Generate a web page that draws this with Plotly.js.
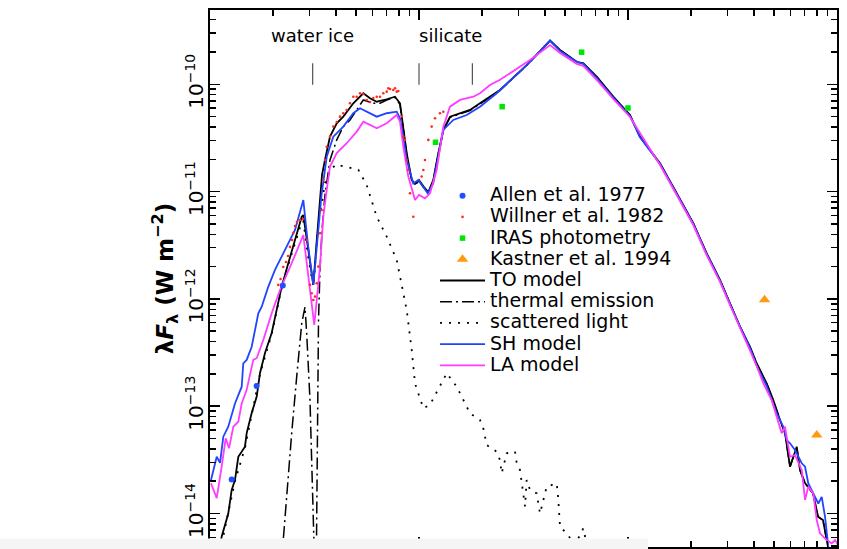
<!DOCTYPE html>
<html><head><meta charset="utf-8">
<script src="https://cdn.plot.ly/plotly-3.0.1.min.js"></script>
<style>html,body{margin:0;padding:0;background:#fff}#chart{width:847px;height:549px}</style>
</head><body><div id="chart"></div>
<script>
// ---------------- data (wavelength in micron, lambda*F_lambda in W m^-2) ----------------
const allenWl = [1.27, 1.67, 2.23];
const allenF  = [2.08e-14, 1.54e-13, 1.33e-12];

const willnerWl = [2.122,2.175,2.242,2.310,2.362,2.414,2.468,2.504,2.551,2.608,2.695,2.786,2.912,3.009,3.066,3.121,3.180,3.240,3.298,3.360,3.422,3.484,3.549,3.618,3.751,3.890,4.040,4.188,4.343,4.509,4.676,4.850,5.034,5.221,5.414,5.621,5.830,6.043,6.276,6.509,6.748,7.007,7.131,7.265,7.534,7.678,7.823,7.962,8.264,8.413,8.570,8.733,8.889,9.056,9.391,10.30,10.49,10.68,11.08,11.50,11.93,12.60,13.07];
const willnerF  = [1.35e-12,1.53e-12,1.98e-12,2.21e-12,2.51e-12,3.05e-12,3.54e-12,4.11e-12,4.78e-12,5.21e-12,5.43e-12,5.55e-12,3.54e-12,1.35e-12,1.13e-12,9.77e-13,1.05e-12,1.40e-12,2.00e-12,4.09e-12,6.74e-12,1.28e-11,1.97e-11,2.62e-11,3.25e-11,4.03e-11,4.45e-11,4.99e-11,5.37e-11,5.76e-11,6.65e-11,7.66e-11,7.66e-11,8.24e-11,8.12e-11,7.14e-11,6.84e-11,7.45e-11,7.66e-11,7.66e-11,8.24e-11,8.53e-11,9.18e-11,9.04e-11,8.85e-11,9.18e-11,8.53e-11,8.66e-11,4.99e-11,3.25e-11,3.03e-11,1.97e-11,1.59e-11,9.64e-12,5.83e-12,1.38e-11,1.59e-11,1.97e-11,3.03e-11,4.03e-11,4.82e-11,5.37e-11,5.55e-11];

const irasWl = [12, 25, 60, 100];
const irasF  = [2.88e-11, 6.18e-11, 1.99e-10, 6.01e-11];

const kastnerWl = [450, 800];
const kastnerF  = [9.8e-13, 5.4e-14];

const toWl = [1.092,1.137,1.223,1.270,1.317,1.366,1.470,1.498,1.583,1.673,1.735,1.833,1.973,2.085,2.203,2.369,2.551,2.747,2.796,2.943,3.121,3.215,3.323,3.435,3.549,3.751,4.040,4.343,4.850,5.414,5.830,6.276,7.007,7.678,8.110,8.413,8.733,9.228,9.570,10.00,10.56,11.08,11.70,12.37,13.07,14.07,15.71,17.54,19.58,21.86,24.41,32.75,42.36,47.28,56.83,61.11,70.84,85.05,102.2,114.1,142.3,171.0,205.3,237.9,275.6,307.6,343.6,383.5,412.9,460.9,495.6,533.6,563.8,595.8,641.6,665.3,703.2,767.9,811.4,857.0,905.6,935.9];
const toF  = [3.69e-15,6.08e-15,1.00e-14,1.66e-14,2.05e-14,3.38e-14,4.20e-14,5.62e-14,8.65e-14,1.23e-13,2.04e-13,3.13e-13,4.81e-13,7.88e-13,1.30e-12,2.15e-12,3.54e-12,5.83e-12,6.05e-12,2.86e-12,1.35e-12,2.86e-12,6.74e-12,1.43e-11,1.97e-11,3.25e-11,4.33e-11,4.99e-11,6.65e-11,8.24e-11,7.40e-11,6.88e-11,7.25e-11,7.66e-11,6.65e-11,4.03e-11,2.28e-11,1.28e-11,1.18e-11,1.28e-11,1.10e-11,9.91e-12,1.28e-11,2.28e-11,3.75e-11,4.99e-11,5.37e-11,5.76e-11,6.65e-11,7.66e-11,8.85e-11,1.51e-10,2.55e-10,2.09e-10,1.62e-10,1.57e-10,1.18e-10,7.66e-11,5.17e-11,3.25e-11,1.84e-11,9.64e-12,5.07e-12,2.66e-12,1.50e-12,9.10e-13,5.51e-13,3.58e-13,2.51e-13,1.63e-13,1.14e-13,7.44e-14,5.63e-14,2.73e-14,4.19e-14,2.54e-14,1.92e-14,1.55e-14,9.34e-15,8.70e-15,4.90e-15,2.97e-15];

const thermalWl = [2.203,2.328,2.460,2.599,2.747,2.848,2.901,3.009,3.066,3.128,3.180,3.233,3.268,3.305,3.360,3.435,3.549,3.751,4.040,4.343,4.676,5.034,5.414,6.043,6.509,7.007,7.678,8.110,8.413,8.733,9.228,9.570,10.00,10.56,11.08,11.70,12.37,13.07,14.07,15.71,17.54,19.58,21.86,24.41,32.75,42.36,47.28,56.83,61.11,70.84,85.05,102.2,114.1,142.3,171.0,205.3,237.9,275.6,307.6,343.6,383.5,412.9,460.9,495.6,533.6,563.8,595.8,641.6,665.3,703.2,767.9,811.4,857.0,905.6,935.9];
const thermalF  = [3.69e-15,1.55e-14,5.63e-14,1.88e-13,5.92e-13,8.40e-13,4.81e-13,1.14e-13,2.73e-14,5.66e-15,2.40e-15,5.66e-15,1.14e-13,6.36e-13,1.86e-12,4.39e-12,9.29e-12,1.97e-11,3.03e-11,4.03e-11,4.65e-11,5.76e-11,7.14e-11,6.65e-11,6.65e-11,7.14e-11,7.53e-11,6.48e-11,3.96e-11,2.24e-11,1.26e-11,1.15e-11,1.26e-11,1.08e-11,9.70e-12,1.26e-11,2.24e-11,3.67e-11,4.90e-11,5.29e-11,5.70e-11,6.55e-11,7.61e-11,8.75e-11,1.50e-10,2.54e-10,2.08e-10,1.61e-10,1.56e-10,1.17e-10,7.62e-11,5.15e-11,3.23e-11,1.83e-11,9.60e-12,5.05e-12,2.65e-12,1.49e-12,9.05e-13,5.48e-13,3.56e-13,2.50e-13,1.62e-13,1.13e-13,7.40e-14,5.60e-14,2.72e-14,4.17e-14,2.53e-14,1.91e-14,1.54e-14,9.30e-15,8.66e-15,4.88e-15,2.96e-15];

const scatWl = [1.092,1.223,1.317,1.470,1.583,1.735,1.973,2.203,2.369,2.551,2.747,2.796,2.943,3.121,3.215,3.323,3.420,3.549,3.821,4.040,4.188,4.676,5.124,5.621,6.276,7.007,7.823,8.733,9.228,9.570,10.49,11.29,13.07,13.57,15.15,16.01,17.54,19.58,20.31,21.08,23.54,24.41,24.87,26.28,28.80,29.35,30.43,32.16,32.75,33.97,36.58,37.93,40.83,45.60,46.41,47.28,50.90,55.78,61.11,65.79];
const scatF  = [3.6e-15,9.8e-15,2.0e-14,4.1e-14,8.5e-14,2.0e-13,4.7e-13,1.27e-12,2.08e-12,3.35e-12,5.2e-12,5.3e-12,2.5e-12,1.3e-12,2.7e-12,5.8e-12,7.5e-12,1.2e-11,1.65e-11,1.80e-11,1.75e-11,1.68e-11,1.60e-11,1.15e-11,5.83e-12,3.80e-12,2.30e-12,7.88e-13,3.34e-13,1.63e-13,9.56e-14,1.03e-13,1.75e-13,2.03e-13,1.52e-13,1.23e-13,8.59e-14,7.44e-14,6.22e-14,4.35e-14,3.77e-14,3.15e-14,2.37e-14,3.64e-14,3.77e-14,2.94e-14,2.54e-14,1.16e-14,2.05e-14,1.66e-14,1.54e-14,1.00e-14,1.78e-14,1.91e-14,1.34e-14,7.53e-15,6.54e-15,5.09e-15,7.28e-15,3.69e-15];

const shWl = [1.011,1.077,1.117,1.158,1.223,1.317,1.418,1.443,1.498,1.583,1.703,1.768,1.901,2.046,2.285,2.551,2.796,2.943,3.121,3.215,3.305,3.416,3.618,3.890,4.343,4.850,5.221,5.621,6.276,7.007,7.823,8.110,8.413,8.733,9.391,9.924,11.01,11.70,12.37,13.07,14.59,16.91,19.58,23.54,32.75,42.36,47.28,56.83,61.11,70.84,85.05,102.2,114.1,142.3,171.0,205.3,237.9,275.6,307.6,343.6,383.5,412.9,460.9,514.6,553.4,574.6,595.8,629.5,678.0,703.2,729.0,770.1,813.9,845.1,876.4,908.7,935.9];
const shF  = [2.05e-14,3.38e-14,2.96e-14,5.20e-14,6.44e-14,1.06e-13,1.52e-13,2.51e-13,2.70e-13,3.58e-13,7.34e-13,8.46e-13,1.30e-12,1.86e-12,2.86e-12,4.39e-12,8.35e-12,3.18e-12,1.35e-12,2.56e-12,4.88e-12,9.29e-12,2.11e-11,3.25e-11,4.03e-11,5.37e-11,5.97e-11,5.55e-11,4.99e-11,5.37e-11,5.55e-11,4.82e-11,3.25e-11,1.97e-11,1.19e-11,1.28e-11,9.64e-12,1.19e-11,2.11e-11,3.75e-11,4.65e-11,5.17e-11,6.18e-11,8.24e-11,1.51e-10,2.55e-10,2.04e-10,1.61e-10,1.55e-10,1.14e-10,7.53e-11,5.07e-11,3.20e-11,1.81e-11,9.50e-12,4.99e-12,2.62e-12,1.47e-12,8.97e-13,5.47e-13,3.49e-13,2.37e-13,1.54e-13,8.59e-14,6.44e-14,4.84e-14,4.51e-14,3.91e-14,2.94e-14,2.73e-14,1.91e-14,1.54e-14,1.24e-14,1.43e-14,9.34e-15,4.90e-15,2.97e-15];

const laWl = [1.011,1.077,1.137,1.189,1.233,1.293,1.366,1.418,1.498,1.611,1.673,1.799,1.973,2.162,2.460,2.796,3.009,3.155,3.360,3.484,3.618,3.751,4.040,4.509,5.034,5.414,5.830,6.276,7.007,7.823,8.110,8.413,8.889,9.570,10.00,10.68,11.29,12.15,13.07,14.07,15.71,18.19,19.58,21.86,24.41,31.55,33.97,42.36,47.28,56.83,61.11,70.84,85.05,102.2,142.3,171.0,205.3,237.9,275.6,307.6,343.6,383.5,412.9,444.2,487.1,514.6,543.7,563.8,595.8,629.5,678.0,703.2,729.0,770.1,799.6,829.3,892.6,943.1,978.1,1011];
const laF  = [1.91e-14,1.39e-14,2.73e-14,5.02e-14,4.05e-14,6.44e-14,7.17e-14,1.06e-13,1.42e-13,2.70e-13,2.80e-13,4.14e-13,7.34e-13,1.21e-12,2.15e-12,3.94e-12,1.21e-12,5.71e-13,2.00e-12,5.83e-12,1.035e-11,1.71e-11,2.28e-11,2.82e-11,3.62e-11,4.48e-11,4.18e-11,3.89e-11,4.33e-11,5.17e-11,4.48e-11,2.62e-11,1.38e-11,8.35e-12,9.29e-12,8.66e-12,9.64e-12,1.59e-11,4.03e-11,6.18e-11,7.14e-11,7.66e-11,8.24e-11,9.85e-11,1.10e-10,1.51e-10,1.68e-10,2.32e-10,1.96e-10,1.55e-10,1.48e-10,1.10e-10,7.29e-11,4.96e-11,1.77e-11,9.29e-12,4.88e-12,2.56e-12,1.44e-12,8.77e-13,5.36e-13,3.41e-13,2.37e-13,1.63e-13,1.14e-13,7.98e-14,5.59e-14,6.44e-14,3.38e-14,3.51e-14,2.54e-14,1.34e-14,1.78e-14,1.54e-14,8.70e-15,6.54e-15,5.66e-15,5.28e-15,5.66e-15,5.09e-15];

// spectral features marked at the top
const featureWl = [3.1, 10, 18];
const featureTickF = [9.9e-11, 1.57e-10];
const featureLabels = ['water ice', 'silicate'];
const featureLabelWl = [3.1, 14.2];

// axis ticks
const xMajor = [1, 10, 100, 1000];
const yMajor = [1e-14, 1e-13, 1e-12, 1e-11, 1e-10];
const yTickText = ['10<sup>\u221214</sup>','10<sup>\u221213</sup>','10<sup>\u221212</sup>','10<sup>\u221211</sup>','10<sup>\u221210</sup>'];

// ---------------- build ----------------
const FONT = 'DejaVu Sans, Liberation Sans, Arial, sans-serif';
function minorTicks(lo, hi) {
  const out = [];
  for (let e = lo; e <= hi; e++) for (let m = 2; m <= 9; m++) out.push(m * Math.pow(10, e));
  return out;
}
const lg = t => '<span style="font-size:19px">' + t + '</span>';

const fx = [], fy = [];
featureWl.forEach(w => { fx.push(w, w, null); fy.push(featureTickF[0], featureTickF[1], null); });

const traces = [
  {x: thermalWl, y: thermalF, mode: 'lines', name: lg('thermal emission'), legendrank: 6,
   line: {color: '#000', width: 1.5, dash: '12px,4px,2px,4px'}},
  {x: scatWl, y: scatF, mode: 'lines', name: lg('scattered light'), legendrank: 7,
   line: {color: '#000', width: 1.8, dash: '2px,7px'}},
  {x: toWl, y: toF, mode: 'lines', name: lg('TO model'), legendrank: 5,
   line: {color: '#000', width: 1.8}},
  {x: shWl, y: shF, mode: 'lines', name: lg('SH model'), legendrank: 8,
   line: {color: '#2244ff', width: 1.8}},
  {x: laWl, y: laF, mode: 'lines', name: lg('LA model'), legendrank: 9,
   line: {color: '#ff3cff', width: 1.8}},
  {x: allenWl, y: allenF, mode: 'markers', name: lg('Allen et al. 1977'), legendrank: 1,
   marker: {color: '#1f4fff', size: 6, symbol: 'circle'}},
  {x: willnerWl, y: willnerF, mode: 'markers', name: lg('Willner et al. 1982'), legendrank: 2,
   marker: {color: '#ff2a1a', size: 2.6, symbol: 'circle'}},
  {x: irasWl, y: irasF, mode: 'markers', name: lg('IRAS photometry'), legendrank: 3,
   marker: {color: '#00e600', size: 5.5, symbol: 'square'}},
  {x: kastnerWl, y: kastnerF, mode: 'markers', name: lg('Kastner et al. 1994'), legendrank: 4,
   marker: {color: '#ff9a10', size: 10, symbol: 'triangle-up'}},
  {x: fx, y: fy, mode: 'lines', showlegend: false, hoverinfo: 'skip',
   line: {color: '#444', width: 1.1}}
];

const axisBase = {
  type: 'log', showline: true, linecolor: '#000', linewidth: 2, mirror: 'allticks',
  ticks: 'inside', ticklen: 10, tickwidth: 1.5, tickcolor: '#000',
  showgrid: false, zeroline: false
};

const layout = {
  width: 847, height: 549,
  margin: {l: 210, r: 10, t: 10, b: 2},
  paper_bgcolor: '#fff', plot_bgcolor: '#fff',
  font: {family: FONT, color: '#000'},
  showlegend: true,
  xaxis: Object.assign({}, axisBase, {
    range: [0, 3], tickmode: 'array', tickvals: xMajor, showticklabels: false,
    minor: {tickmode: 'array', tickvals: minorTicks(0, 2), ticks: 'inside', ticklen: 6, tickwidth: 1.5, tickcolor: '#000', showgrid: false}
  }),
  yaxis: Object.assign({}, axisBase, {
    range: [-14.312, -9.308], tickmode: 'array', tickvals: yMajor, ticktext: yTickText,
    tickangle: -90, tickfont: {family: FONT, size: 20, color: '#000'},
    ticklabelstandoff: -3,
    title: {text: '\u03bb<i>F</i><sub>\u03bb</sub> (W m<sup>\u22122</sup>)', font: {family: FONT, size: 23, color: '#000', weight: 'bold'}, standoff: 0},
    minor: {tickmode: 'array', tickvals: minorTicks(-15, -10), ticks: 'inside', ticklen: 6, tickwidth: 1.5, tickcolor: '#000', showgrid: false}
  }),
  legend: {
    x: 0.3589, y: 0.6832, xanchor: 'left', yanchor: 'top',
    bgcolor: 'rgba(0,0,0,0)', borderwidth: 0, itemwidth: 45,
    font: {family: FONT, size: 14, color: '#000'}, traceorder: 'normal', tracegroupgap: 0
  },
  annotations: featureLabels.map((t, i) => ({
    xref: 'x', yref: 'paper', x: Math.log10(featureLabelWl[i]), y: 0.9516,
    text: t, showarrow: false, xanchor: 'center', yanchor: 'middle',
    font: {family: FONT, size: 18, color: '#000'}
  })),
  shapes: [{
    type: 'rect', xref: 'paper', yref: 'paper', x0: -0.5, x1: 0.6986, y0: -0.05, y1: 0.0158,
    fillcolor: '#f5f5f5', line: {width: 0}, layer: 'above'
  }]
};

Plotly.newPlot('chart', traces, layout, {staticPlot: true, displayModeBar: false});
</script></body></html>
